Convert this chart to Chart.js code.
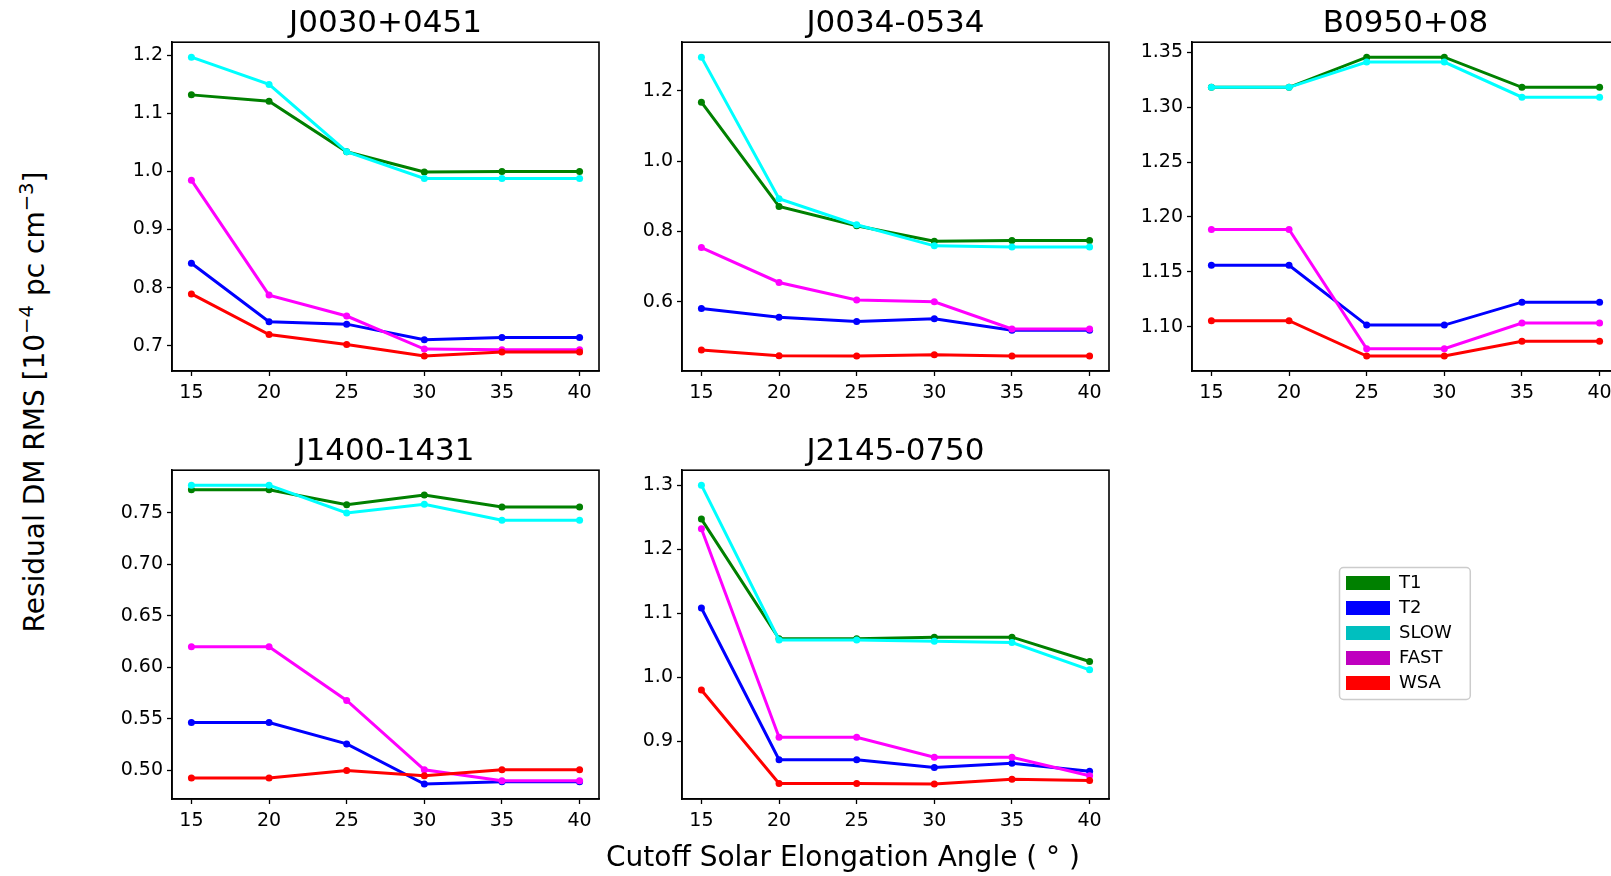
<!DOCTYPE html>
<html>
<head>
<meta charset="utf-8">
<script src="https://cdn.jsdelivr.net/npm/chart.js@4.4.1/dist/chart.umd.min.js"></script>
<style>
  html, body { margin: 0; padding: 0; background: #fff; width: 1611px; height: 876px; overflow: hidden; position: relative; font-family: 'DejaVu Sans', sans-serif; color: #000; }
  canvas { position: absolute; }
  .ylabel { position: absolute; left: 34px; top: 402px; transform: translate(-50%, -50%) rotate(-90deg); white-space: nowrap; font-size: 28px; }
  .xlabel { position: absolute; left: 843px; top: 856px; transform: translate(-50%, -50%); white-space: nowrap; font-size: 28px; }
  sup { font-size: 0.7em; vertical-align: 0.55em; line-height: 0; }
</style>
</head>
<body>
<canvas id="p1" width="532" height="416" style="left:82px;top:0px"></canvas>
<canvas id="p2" width="532" height="416" style="left:592px;top:0px"></canvas>
<canvas id="p3" width="532" height="416" style="left:1102px;top:0px"></canvas>
<canvas id="p4" width="532" height="416" style="left:82px;top:428px"></canvas>
<canvas id="p5" width="532" height="416" style="left:592px;top:428px"></canvas>
<canvas id="legendBox" width="200" height="160" style="left:1331px;top:561px"></canvas>
<div class="ylabel">Residual DM RMS [10<sup>−4</sup> pc cm<sup>−3</sup>]</div>
<div class="xlabel">Cutoff Solar Elongation Angle ( ° )</div>
<script>
// =========================
// Data
// =========================
const xAngles = [15, 20, 25, 30, 35, 40];
const seriesNames = ['T1', 'T2', 'SLOW', 'FAST', 'WSA'];
const lineColors = ['#008000', '#0000ff', '#00ffff', '#ff00ff', '#ff0000'];
const patchColors = ['#008000', '#0000ff', '#00bfbf', '#bf00bf', '#ff0000'];

// rows follow seriesNames: T1, T2, SLOW, FAST, WSA
const j0030 = [
    [1.132, 1.121, 1.034, 0.999, 1.000, 1.000],
    [0.842, 0.741, 0.737, 0.710, 0.714, 0.714],
    [1.197, 1.150, 1.034, 0.988, 0.988, 0.988],
    [0.985, 0.787, 0.751, 0.694, 0.693, 0.693],
    [0.789, 0.719, 0.702, 0.682, 0.689, 0.689]
];
const j0034 = [
    [1.167, 0.871, 0.816, 0.772, 0.774, 0.774],
    [0.581, 0.556, 0.544, 0.552, 0.519, 0.519],
    [1.295, 0.893, 0.819, 0.759, 0.756, 0.756],
    [0.754, 0.655, 0.605, 0.600, 0.523, 0.523],
    [0.463, 0.447, 0.446, 0.450, 0.446, 0.446]
];
const b0950 = [
    [1.318, 1.318, 1.3455, 1.3455, 1.318, 1.318],
    [1.156, 1.156, 1.1015, 1.1015, 1.1224, 1.1224],
    [1.318, 1.318, 1.341, 1.341, 1.309, 1.309],
    [1.1885, 1.1885, 1.080, 1.080, 1.1033, 1.1033],
    [1.1055, 1.1055, 1.0733, 1.0733, 1.0867, 1.0867]
];
const j1400 = [
    [0.7726, 0.7726, 0.758, 0.7674, 0.7558, 0.7558],
    [0.5465, 0.5465, 0.5258, 0.4868, 0.489, 0.489],
    [0.777, 0.777, 0.750, 0.7584, 0.7429, 0.7429],
    [0.620, 0.620, 0.568, 0.5006, 0.490, 0.490],
    [0.4926, 0.4926, 0.500, 0.4948, 0.5006, 0.5006]
];
const j2145 = [
    [1.247, 1.060, 1.060, 1.0625, 1.0625, 1.0245],
    [1.108, 0.871, 0.871, 0.859, 0.8656, 0.853],
    [1.300, 1.058, 1.058, 1.056, 1.054, 1.0115],
    [1.232, 0.906, 0.906, 0.875, 0.875, 0.846],
    [0.980, 0.834, 0.834, 0.833, 0.8406, 0.8385]
];

const ticksJ0030 = [0.7, 0.8, 0.9, 1.0, 1.1, 1.2];
const ticksJ0034 = [0.6, 0.8, 1.0, 1.2];
const ticksB0950 = [1.10, 1.15, 1.20, 1.25, 1.30, 1.35];
const ticksJ1400 = [0.50, 0.55, 0.60, 0.65, 0.70, 0.75];
const ticksJ2145 = [0.9, 1.0, 1.1, 1.2, 1.3];

Chart.defaults.font.family = "'DejaVu Sans', sans-serif";
Chart.defaults.color = '#000';

// =========================
// Box round each plot
// =========================
const frameBox = {
    id: 'frameBox',
    afterDatasetsDraw(chart) {
        const a = chart.chartArea;
        const ctx = chart.ctx;
        ctx.save();
        ctx.strokeStyle = '#000';
        ctx.lineWidth = 1.6;
        ctx.strokeRect(a.left, a.top, a.right - a.left, a.bottom - a.top);
        ctx.restore();
    }
};

// =========================
// Render one panel
// =========================
function renderPanel(id, title, values, yTicks, decimals) {
    const all = values.flat();
    const lo = Math.min(...all);
    const hi = Math.max(...all);
    const pad = (hi - lo) * 0.05;
    const xPad = (xAngles[xAngles.length - 1] - xAngles[0]) * 0.05;

    const axisGrid = { drawOnChartArea: false, tickLength: 5, tickColor: '#000', tickWidth: 1.3 };
    const axisBorder = { color: '#000', width: 1.6 };

    new Chart(document.getElementById(id), {
        type: 'line',
        data: {
            datasets: seriesNames.map((name, i) => ({
                label: name,
                data: xAngles.map((x, j) => ({ x: x, y: values[i][j] })),
                borderColor: lineColors[i],
                backgroundColor: lineColors[i],
                pointBackgroundColor: lineColors[i],
                borderWidth: 3,
                pointRadius: 3.5,
                pointBorderWidth: 0,
                tension: 0,
                order: seriesNames.length - i
            }))
        },
        options: {
            responsive: false,
            animation: false,
            layout: { padding: { left: 0, right: 15, top: 0, bottom: 0 } },
            plugins: {
                legend: { display: false },
                tooltip: { enabled: false },
                title: {
                    display: true,
                    text: title,
                    fullSize: false,
                    color: '#000',
                    font: { size: 31, weight: 'normal' },
                    padding: { top: 5, bottom: 0 }
                }
            },
            scales: {
                x: {
                    type: 'linear',
                    min: xAngles[0] - xPad,
                    max: xAngles[xAngles.length - 1] + xPad,
                    afterBuildTicks: s => { s.ticks = xAngles.map(v => ({ value: v })); },
                    afterFit: s => { s.height = 45; },
                    ticks: { autoSkip: false, maxRotation: 0, padding: 6, font: { size: 19 }, color: '#000', callback: v => String(v) },
                    grid: axisGrid,
                    border: axisBorder
                },
                y: {
                    min: lo - pad,
                    max: hi + pad,
                    afterBuildTicks: s => { s.ticks = yTicks.map(v => ({ value: v })); },
                    afterFit: s => { s.width = 90; },
                    ticks: { padding: 4, font: { size: 19 }, color: '#000', callback: v => v.toFixed(decimals) },
                    grid: axisGrid,
                    border: axisBorder
                }
            }
        },
        plugins: [frameBox]
    });
}

// =========================
// Legend frame
// =========================
const legendFrame = {
    id: 'legendFrame',
    afterDraw(chart) {
        const l = chart.legend;
        if (!l || !l.legendHitBoxes.length) return;
        const boxes = l.legendHitBoxes;
        const right = Math.max(...boxes.map(b => b.left + b.width)) + 18;
        const last = boxes[boxes.length - 1];
        const bottom = last.top + last.height + 7;
        const ctx = chart.ctx;
        ctx.save();
        ctx.strokeStyle = '#cccccc';
        ctx.lineWidth = 1.5;
        ctx.beginPath();
        ctx.roundRect(l.left + 0.5, l.top + 0.5, right - l.left, bottom - l.top, 4);
        ctx.stroke();
        ctx.restore();
    }
};

renderPanel('p1', 'J0030+0451', j0030, ticksJ0030, 1);
renderPanel('p2', 'J0034-0534', j0034, ticksJ0034, 1);
renderPanel('p3', 'B0950+08', b0950, ticksB0950, 2);
renderPanel('p4', 'J1400-1431', j1400, ticksJ1400, 2);
renderPanel('p5', 'J2145-0750', j2145, ticksJ2145, 1);

// =========================
// Legend only chart
// =========================
new Chart(document.getElementById('legendBox'), {
    type: 'line',
    data: {
        datasets: seriesNames.map((name, i) => ({
            label: name,
            data: [],
            backgroundColor: patchColors[i],
            borderColor: patchColors[i],
            borderWidth: 0
        }))
    },
    options: {
        responsive: false,
        animation: false,
        layout: { padding: { left: 8, top: 6 } },
        scales: { x: { display: false }, y: { display: false } },
        plugins: {
            tooltip: { enabled: false },
            legend: {
                position: 'left',
                align: 'start',
                maxWidth: 190,
                labels: { boxWidth: 44, boxHeight: 14, padding: 7, color: '#000', font: { size: 18 } }
            }
        }
    },
    plugins: [legendFrame]
});
</script>
</body>
</html>
